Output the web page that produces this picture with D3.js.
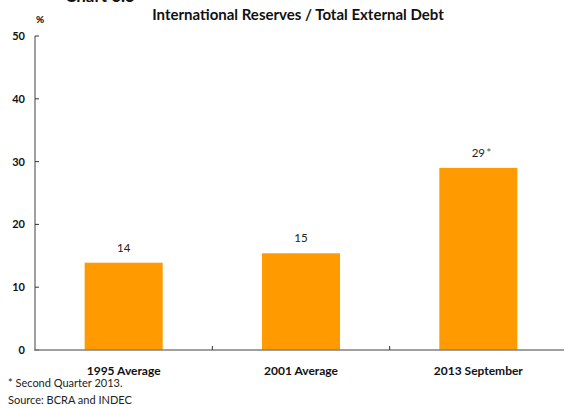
<!DOCTYPE html>
<html>
<head>
<meta charset="utf-8">
<script src="https://cdn.jsdelivr.net/npm/d3@7"></script>
<style>
  body { margin: 0; background: #fff; }
  svg { display: block; font-family: Lato, "Open Sans", sans-serif; }
</style>
</head>
<body>
<div id="chart"></div>
<script>
// Data
var categories = ["1995 Average", "2001 Average", "2013 September"];
var values = [13.9, 15.4, 29.0];
var valueLabels = ["14", "15", "29"];
var labelNotes = ["", "", "*"];
var yTicks = [0, 10, 20, 30, 40, 50];

var width = 565;
var height = 409;

// Plot area
var plotLeft = 35, plotRight = 567, plotTop = 36, plotBottom = 350;

var svg = d3.select("#chart")
    .append("svg")
    .attr("width", width)
    .attr("height", height);

var x = d3.scaleBand().domain(categories).range([plotLeft, plotRight]).paddingInner(0.56).paddingOuter(0.28);
var xTickScale = d3.scaleLinear().domain([0, categories.length]).range([plotLeft, plotRight]);
var y = d3.scaleLinear().domain([0, 50]).range([plotBottom, plotTop]);

// Cut-off chart number at the very top
svg.append("text")
    .attr("x", 65)
    .attr("y", 2)
    .style("font-size", "17px")
    .style("font-weight", "bold")
    .style("fill", "#111")
    .text("Chart 6.5");

// Title
svg.append("text")
    .attr("x", 298)
    .attr("y", 20)
    .attr("text-anchor", "middle")
    .style("font-size", "15px")
    .style("font-weight", "bold")
    .style("fill", "#111")
    .text("International Reserves / Total External Debt");

// Unit
svg.append("text")
    .attr("x", 40)
    .attr("y", 23)
    .attr("text-anchor", "middle")
    .style("font-size", "10px")
    .style("font-weight", "bold")
    .text("%");

// Bars
svg.selectAll(".bar")
    .data(values)
    .enter().append("rect")
    .attr("class", "bar")
    .attr("x", function (d, i) { return x(categories[i]); })
    .attr("y", function (d) { return y(d); })
    .attr("width", x.bandwidth())
    .attr("height", function (d) { return y(0) - y(d); })
    .style("fill", "#ff9a00");

// Value labels
svg.selectAll(".vlabel")
    .data(values)
    .enter().append("text")
    .attr("class", "vlabel")
    .attr("x", function (d, i) { return x(categories[i]) + x.bandwidth() / 2; })
    .attr("y", function (d) { return y(d) - 11; })
    .attr("text-anchor", "middle")
    .style("font-size", "11.5px")
    .style("fill", "#222")
    .text(function (d, i) { return valueLabels[i]; });

svg.selectAll(".vnote")
    .data(values)
    .enter().append("text")
    .attr("class", "vnote")
    .attr("x", function (d, i) { return x(categories[i]) + x.bandwidth() / 2 + 8; })
    .attr("y", function (d) { return y(d) - 11; })
    .style("font-size", "12px")
    .style("fill", "#555")
    .text(function (d, i) { return labelNotes[i]; });

// Y axis
svg.append("line")
    .attr("x1", plotLeft).attr("x2", plotLeft)
    .attr("y1", y(50)).attr("y2", y(0))
    .style("stroke", "#808080")
    .style("stroke-width", 1.5);

svg.selectAll(".ytick")
    .data(yTicks)
    .enter().append("line")
    .attr("x1", plotLeft).attr("x2", plotLeft + 4)
    .attr("y1", function (d) { return y(d); })
    .attr("y2", function (d) { return y(d); })
    .style("stroke", "#333")
    .style("stroke-width", 1);

svg.selectAll(".ylabel")
    .data(yTicks)
    .enter().append("text")
    .attr("x", 25)
    .attr("y", function (d) { return y(d) + 4; })
    .attr("text-anchor", "end")
    .style("font-size", "11px")
    .style("font-weight", "bold")
    .style("fill", "#111")
    .text(function (d) { return d; });

// X axis
svg.append("line")
    .attr("x1", plotLeft - 1).attr("x2", 564)
    .attr("y1", y(0)).attr("y2", y(0))
    .style("stroke", "#808080")
    .style("stroke-width", 1.5);

svg.selectAll(".xtick")
    .data(d3.range(1, categories.length))
    .enter().append("line")
    .attr("x1", function (d) { return xTickScale(d); })
    .attr("x2", function (d) { return xTickScale(d); })
    .attr("y1", y(0)).attr("y2", y(0) - 4)
    .style("stroke", "#333")
    .style("stroke-width", 1);

svg.selectAll(".xlabel")
    .data(categories)
    .enter().append("text")
    .attr("x", function (d) { return x(d) + x.bandwidth() / 2; })
    .attr("y", 375)
    .attr("text-anchor", "middle")
    .style("font-size", "12px")
    .style("font-weight", "bold")
    .style("fill", "#111")
    .text(function (d) { return d; });

// Notes
svg.append("text")
    .attr("x", 8)
    .attr("y", 387)
    .style("font-size", "11px")
    .style("fill", "#222")
    .text("* Second Quarter 2013.");

svg.append("text")
    .attr("x", 8)
    .attr("y", 404)
    .style("font-size", "11px")
    .style("fill", "#222")
    .text("Source: BCRA and INDEC");
</script>
</body>
</html>
